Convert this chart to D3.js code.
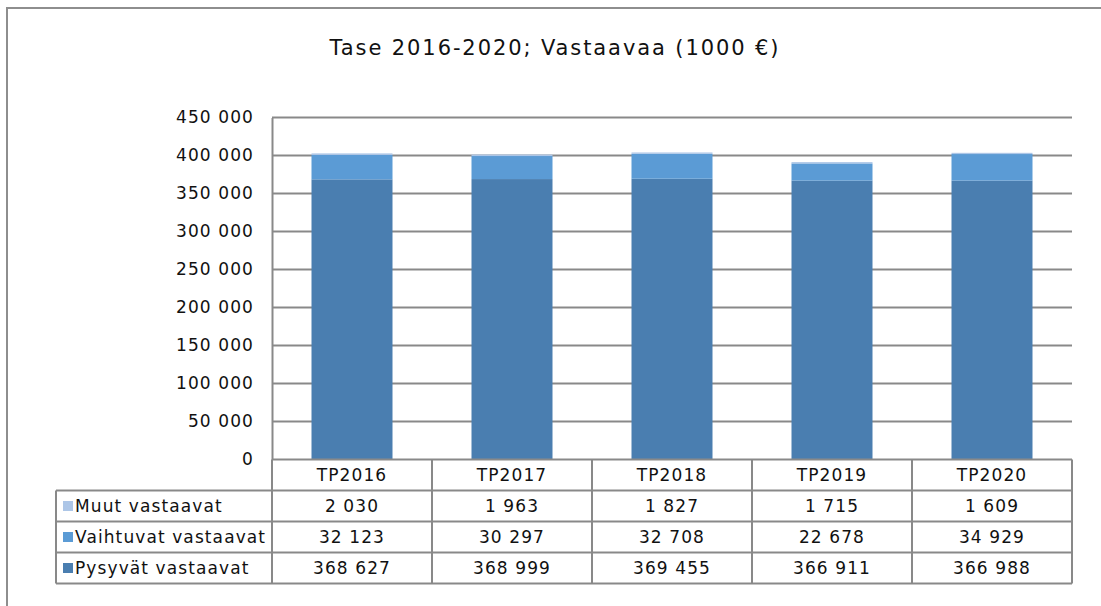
<!DOCTYPE html>
<html>
<head>
<meta charset="utf-8">
<script src="https://cdn.jsdelivr.net/npm/d3@7"></script>
<style>
  html, body { margin: 0; padding: 0; background: #fff; }
  svg { display: block; font-family: "DejaVu Sans", Verdana, sans-serif; }
</style>
</head>
<body>
<svg id="chart" width="1101" height="606"></svg>
<script>
// data
const categories = ["TP2016", "TP2017", "TP2018", "TP2019", "TP2020"];
const pysyvat = [368627, 368999, 369455, 366911, 366988];
const vaihtuvat = [32123, 30297, 32708, 22678, 34929];
const muut = [2030, 1963, 1827, 1715, 1609];
const yTicks = [0, 50000, 100000, 150000, 200000, 250000, 300000, 350000, 400000, 450000];

// stacked bottom to top, table lists top to bottom
const series = [
  { name: "Pysyvät vastaavat", values: pysyvat, color: "#4a7eb0" },
  { name: "Vaihtuvat vastaavat", values: vaihtuvat, color: "#5b9bd5" },
  { name: "Muut vastaavat", values: muut, color: "#adc6e7" }
];

const fi = d3.formatLocale({ decimal: ",", thousands: "\u00a0", grouping: [3], currency: ["", " €"] });
const fmt = fi.format(",");

const svg = d3.select("#chart");
const plotLeft = 272, plotRight = 1072, plotTop = 117.5, plotBottom = 459.5;
const rowH = 31;
const gridColor = "#898989";
const textColor = "#111";
const spacing = "1.1px";

// outer frame (top and left edges)
svg.append("path")
  .attr("d", "M7,606 V8 H1101")
  .attr("fill", "none")
  .attr("stroke", "#8e8e8e")
  .attr("stroke-width", 2);

svg.append("text")
  .attr("x", 555).attr("y", 55)
  .attr("text-anchor", "middle")
  .attr("font-size", 21)
  .attr("letter-spacing", "1.9px")
  .attr("fill", textColor)
  .text("Tase 2016-2020; Vastaavaa (1000 €)");

const x = d3.scaleBand().domain(categories).range([plotLeft, plotRight]).padding(0);
const y = d3.scaleLinear().domain([0, 450000]).range([plotBottom, plotTop]);

// gridlines
svg.append("g").selectAll("line")
  .data(yTicks.filter(d => d > 0))
  .enter().append("line")
  .attr("x1", plotLeft).attr("x2", plotRight)
  .attr("y1", d => y(d)).attr("y2", d => y(d))
  .attr("stroke", gridColor).attr("stroke-width", 2);

// y axis
const yAxis = svg.append("g")
  .attr("transform", "translate(" + plotLeft + ",0)")
  .call(d3.axisLeft(y).tickValues(yTicks).tickFormat(fmt).tickSize(0).tickPadding(18));
yAxis.select(".domain").attr("stroke", gridColor).attr("stroke-width", 2);
yAxis.selectAll("text")
  .attr("font-size", 17)
  .attr("letter-spacing", spacing)
  .attr("fill", textColor)
  .attr("font-family", "DejaVu Sans, sans-serif");

// stacked bars
const stackData = categories.map((c, i) => {
  const o = { cat: c };
  series.forEach(s => { o[s.name] = s.values[i]; });
  return o;
});
const stack = d3.stack().keys(series.map(s => s.name))(stackData);
const barW = 81;

svg.append("g").selectAll("g")
  .data(stack)
  .enter().append("g")
  .attr("fill", (d, i) => series[i].color)
  .selectAll("rect")
  .data(d => d)
  .enter().append("rect")
  .attr("x", d => x(d.data.cat) + x.bandwidth() / 2 - barW / 2)
  .attr("y", d => y(d[1]))
  .attr("width", barW)
  .attr("height", d => y(d[0]) - y(d[1]));

// data table
const table = svg.append("g")
  .attr("font-size", 17)
  .attr("letter-spacing", spacing)
  .attr("fill", textColor);
const tableTop = plotBottom;
const legendLeft = 56;
const rows = series.slice().reverse();
const tableBottom = tableTop + rowH * (rows.length + 1);

// header row labels
table.selectAll(".hdr")
  .data(categories)
  .enter().append("text")
  .attr("x", d => x(d) + x.bandwidth() / 2)
  .attr("y", tableTop + rowH / 2 + 6)
  .attr("text-anchor", "middle")
  .text(d => d);

rows.forEach((s, r) => {
  const ry = tableTop + rowH * (r + 1);
  table.append("rect")
    .attr("x", legendLeft + 7).attr("y", ry + rowH / 2 - 5)
    .attr("width", 10).attr("height", 10)
    .attr("fill", s.color);
  table.append("text")
    .attr("x", legendLeft + 19).attr("y", ry + rowH / 2 + 6)
    .text(s.name);
  table.selectAll(null)
    .data(s.values)
    .enter().append("text")
    .attr("x", (d, i) => x(categories[i]) + x.bandwidth() / 2)
    .attr("y", ry + rowH / 2 + 6)
    .attr("text-anchor", "middle")
    .text(d => fmt(d));
});

// table grid lines
const hLines = d3.range(rows.length + 2).map(k => tableTop + rowH * k);
table.selectAll(".h")
  .data(hLines)
  .enter().append("line")
  .attr("x1", (d, k) => k === 0 ? plotLeft : legendLeft)
  .attr("x2", plotRight)
  .attr("y1", d => d).attr("y2", d => d)
  .attr("stroke", gridColor).attr("stroke-width", 2);
const vLines = categories.map(c => x(c)).concat([plotRight]);
table.selectAll(".v")
  .data(vLines)
  .enter().append("line")
  .attr("x1", d => d).attr("x2", d => d)
  .attr("y1", tableTop).attr("y2", tableBottom)
  .attr("stroke", gridColor).attr("stroke-width", 2);
table.append("line")
  .attr("x1", legendLeft).attr("x2", legendLeft)
  .attr("y1", tableTop + rowH).attr("y2", tableBottom)
  .attr("stroke", gridColor).attr("stroke-width", 2);
</script>
</body>
</html>
